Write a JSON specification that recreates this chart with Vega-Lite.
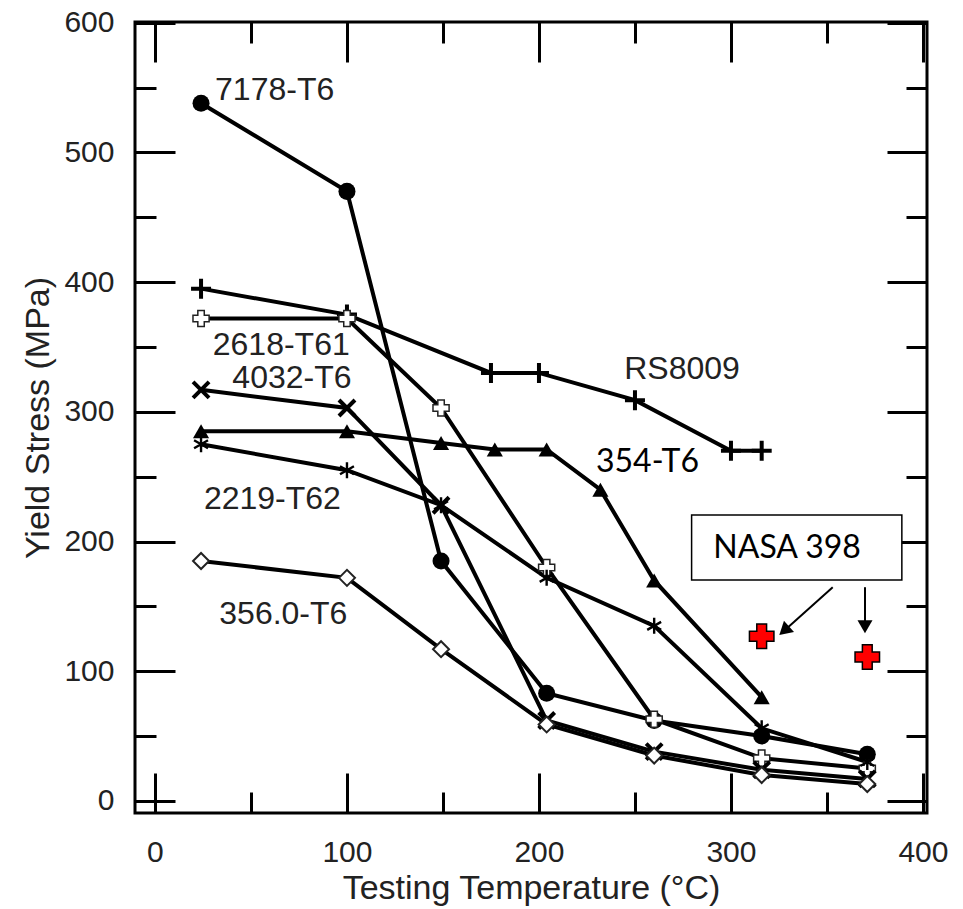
{
  "$schema": "https://vega.github.io/schema/vega-lite/v6.json",
  "width": 792,
  "height": 791,
  "autosize": {"type": "none"},
  "padding": {"left": 135, "top": 22, "right": 36, "bottom": 96},
  "background": "white",
  "config": {
    "view": {"stroke": "black", "strokeWidth": 3},
    "axis": {
      "domain": false,
      "grid": false,
      "tickColor": "black",
      "tickWidth": 3,
      "tickCap": "butt",
      "labelFont": "Liberation Sans",
      "labelFontSize": 30,
      "labelColor": "#222",
      "titleFont": "Liberation Sans",
      "titleFontSize": 34,
      "titleFontWeight": "normal",
      "titleColor": "#222",
      "labelFlush": false,
      "labelOverlap": false
    }
  },
  "datasets": {
    "series": [
      {"s": "7178-T6", "t": 24, "y": 538}, {"s": "7178-T6", "t": 100, "y": 470}, {"s": "7178-T6", "t": 149, "y": 185}, {"s": "7178-T6", "t": 204, "y": 83}, {"s": "7178-T6", "t": 260, "y": 62}, {"s": "7178-T6", "t": 316, "y": 50}, {"s": "7178-T6", "t": 371, "y": 36},
      {"s": "RS8009", "t": 24, "y": 395}, {"s": "RS8009", "t": 100, "y": 375}, {"s": "RS8009", "t": 175, "y": 330}, {"s": "RS8009", "t": 200, "y": 330}, {"s": "RS8009", "t": 250, "y": 309}, {"s": "RS8009", "t": 300, "y": 270}, {"s": "RS8009", "t": 316, "y": 270},
      {"s": "2618-T61", "t": 24, "y": 372}, {"s": "2618-T61", "t": 100, "y": 372}, {"s": "2618-T61", "t": 149, "y": 303}, {"s": "2618-T61", "t": 204, "y": 180}, {"s": "2618-T61", "t": 260, "y": 63}, {"s": "2618-T61", "t": 316, "y": 33}, {"s": "2618-T61", "t": 371, "y": 25},
      {"s": "4032-T6", "t": 24, "y": 317}, {"s": "4032-T6", "t": 100, "y": 303}, {"s": "4032-T6", "t": 149, "y": 228}, {"s": "4032-T6", "t": 204, "y": 62}, {"s": "4032-T6", "t": 260, "y": 38}, {"s": "4032-T6", "t": 316, "y": 24}, {"s": "4032-T6", "t": 371, "y": 17},
      {"s": "354-T6", "t": 24, "y": 285}, {"s": "354-T6", "t": 100, "y": 285}, {"s": "354-T6", "t": 149, "y": 276}, {"s": "354-T6", "t": 177, "y": 271}, {"s": "354-T6", "t": 204, "y": 271}, {"s": "354-T6", "t": 232, "y": 240}, {"s": "354-T6", "t": 260, "y": 170}, {"s": "354-T6", "t": 316, "y": 80},
      {"s": "2219-T62", "t": 24, "y": 275}, {"s": "2219-T62", "t": 100, "y": 255}, {"s": "2219-T62", "t": 149, "y": 228}, {"s": "2219-T62", "t": 204, "y": 172}, {"s": "2219-T62", "t": 260, "y": 135}, {"s": "2219-T62", "t": 316, "y": 56}, {"s": "2219-T62", "t": 371, "y": 30},
      {"s": "356.0-T6", "t": 24, "y": 185}, {"s": "356.0-T6", "t": 100, "y": 172}, {"s": "356.0-T6", "t": 149, "y": 117}, {"s": "356.0-T6", "t": 204, "y": 59}, {"s": "356.0-T6", "t": 260, "y": 35}, {"s": "356.0-T6", "t": 316, "y": 20}, {"s": "356.0-T6", "t": 371, "y": 13}
    ],
    "nasa": [
      {"s": "NASA 398", "t": 316, "y": 127},
      {"s": "NASA 398", "t": 371, "y": 111}
    ],
    "labels": [
      {"label": "7178-T6", "x": 31.3, "y": 548},
      {"label": "2618-T61", "x": 30.1, "y": 351.6},
      {"label": "4032-T6", "x": 40.3, "y": 326},
      {"label": "2219-T62", "x": 25.5, "y": 233},
      {"label": "356.0-T6", "x": 33.5, "y": 144},
      {"label": "RS8009", "x": 244.4, "y": 333}
    ],
    "labels2": [
      {"label": "354-T6", "x": 229.7, "y": 261.4},
      {"label": "NASA 398", "x": 290.8, "y": 194.8}
    ],
    "box": [{"x": 279.5, "x2": 389, "y": 220.5, "y2": 170.4}],
    "arrows": [
      {"x": 353, "y": 164.8, "x2": 327.7, "y2": 131.3, "a": 228},
      {"x": 369.8, "y": 164.8, "x2": 369.8, "y2": 134.3, "a": 180}
    ]
  },
  "layer": [
    {
      "data": {"name": "series"},
      "mark": {"type": "line", "color": "black", "strokeWidth": 4},
      "encoding": {
        "x": {"field": "t", "type": "quantitative", "scale": {"domain": [-10.4, 402.1], "nice": false, "zero": false},
              "axis": {"orient": "bottom", "values": [0, 100, 200, 300, 400], "tickSize": -40, "labelPadding": 64, "title": "Testing Temperature (°C)", "titleBaseline": "middle", "titleY": 75}},
        "y": {"field": "y", "type": "quantitative", "scale": {"domain": [-9.3, 600.6], "nice": false, "zero": false},
              "axis": {"orient": "left", "values": [0, 100, 200, 300, 400, 500, 600], "tickSize": -40, "labelPadding": 61, "title": "Yield Stress (MPa)", "titlePadding": 8}},
        "detail": {"field": "s"}
      }
    },
    {
      "data": {"name": "series"},
      "transform": [{"filter": "datum.s === '7178-T6'"}],
      "mark": {"type": "point", "shape": "circle", "filled": true, "color": "black", "size": 290, "opacity": 1},
      "encoding": {
        "x": {"field": "t", "type": "quantitative", "scale": {"domain": [-10.4, 402.1], "nice": false, "zero": false},
              "axis": {"orient": "bottom", "values": [50, 150, 250, 350], "tickSize": -21, "labels": false, "title": null}},
        "y": {"field": "y", "type": "quantitative", "scale": {"domain": [-9.3, 600.6], "nice": false, "zero": false},
              "axis": {"orient": "left", "values": [50, 150, 250, 350, 450, 550], "tickSize": -21, "labels": false, "title": null}}
      }
    },
    {
      "data": {"name": "series"},
      "transform": [{"filter": "datum.s === 'RS8009'"}],
      "mark": {"type": "point", "shape": "M-1,0H1M0,-1V1", "filled": false, "stroke": "black", "strokeWidth": 4, "size": 400, "opacity": 1},
      "encoding": {
        "x": {"field": "t", "type": "quantitative", "scale": {"domain": [-10.4, 402.1], "nice": false, "zero": false},
              "axis": {"orient": "top", "values": [0, 100, 200, 300, 400], "tickSize": -40, "labels": false, "title": null}},
        "y": {"field": "y", "type": "quantitative", "scale": {"domain": [-9.3, 600.6], "nice": false, "zero": false},
              "axis": {"orient": "right", "values": [0, 100, 200, 300, 400, 500, 600], "tickSize": -40, "labels": false, "title": null}}
      }
    },
    {
      "data": {"name": "series"},
      "transform": [{"filter": "datum.s === '2618-T61'"}],
      "mark": {"type": "point", "shape": "cross", "filled": true, "fill": "white", "stroke": "#222", "strokeWidth": 1.5, "size": 260, "opacity": 1},
      "encoding": {
        "x": {"field": "t", "type": "quantitative", "scale": {"domain": [-10.4, 402.1], "nice": false, "zero": false},
              "axis": {"orient": "top", "values": [50, 150, 250, 350], "tickSize": -21, "labels": false, "title": null}},
        "y": {"field": "y", "type": "quantitative", "scale": {"domain": [-9.3, 600.6], "nice": false, "zero": false},
              "axis": {"orient": "right", "values": [50, 150, 250, 350, 450, 550], "tickSize": -21, "labels": false, "title": null}}
      }
    },
    {
      "data": {"name": "series"},
      "transform": [{"filter": "datum.s === '4032-T6'"}],
      "mark": {"type": "point", "shape": "M-1,-1L1,1M-1,1L1,-1", "filled": false, "stroke": "black", "strokeWidth": 4, "size": 256, "opacity": 1},
      "encoding": {
        "x": {"field": "t", "type": "quantitative", "scale": {"domain": [-10.4, 402.1], "nice": false, "zero": false}, "axis": null},
        "y": {"field": "y", "type": "quantitative", "scale": {"domain": [-9.3, 600.6], "nice": false, "zero": false}, "axis": null}
      }
    },
    {
      "data": {"name": "series"},
      "transform": [{"filter": "datum.s === '354-T6'"}],
      "mark": {"type": "point", "shape": "triangle-up", "filled": true, "color": "black", "size": 260, "opacity": 1},
      "encoding": {
        "x": {"field": "t", "type": "quantitative", "scale": {"domain": [-10.4, 402.1], "nice": false, "zero": false}, "axis": null},
        "y": {"field": "y", "type": "quantitative", "scale": {"domain": [-9.3, 600.6], "nice": false, "zero": false}, "axis": null}
      }
    },
    {
      "data": {"name": "series"},
      "transform": [{"filter": "datum.s === '2219-T62'"}],
      "mark": {"type": "point", "shape": "M0,-1V1M-0.87,-0.5L0.87,0.5M-0.87,0.5L0.87,-0.5", "filled": false, "stroke": "black", "strokeWidth": 2.4, "size": 256, "opacity": 1},
      "encoding": {
        "x": {"field": "t", "type": "quantitative", "scale": {"domain": [-10.4, 402.1], "nice": false, "zero": false}, "axis": null},
        "y": {"field": "y", "type": "quantitative", "scale": {"domain": [-9.3, 600.6], "nice": false, "zero": false}, "axis": null}
      }
    },
    {
      "data": {"name": "series"},
      "transform": [{"filter": "datum.s === '356.0-T6'"}],
      "mark": {"type": "point", "shape": "diamond", "filled": true, "fill": "white", "stroke": "#222", "strokeWidth": 2, "size": 256, "opacity": 1},
      "encoding": {
        "x": {"field": "t", "type": "quantitative", "scale": {"domain": [-10.4, 402.1], "nice": false, "zero": false}, "axis": null},
        "y": {"field": "y", "type": "quantitative", "scale": {"domain": [-9.3, 600.6], "nice": false, "zero": false}, "axis": null}
      }
    },
    {
      "data": {"name": "nasa"},
      "mark": {"type": "point", "shape": "cross", "filled": true, "fill": "#ff0000", "stroke": "black", "strokeWidth": 1.5, "size": 600, "opacity": 1},
      "encoding": {
        "x": {"field": "t", "type": "quantitative", "scale": {"domain": [-10.4, 402.1], "nice": false, "zero": false}, "axis": null},
        "y": {"field": "y", "type": "quantitative", "scale": {"domain": [-9.3, 600.6], "nice": false, "zero": false}, "axis": null}
      }
    },
    {
      "data": {"name": "labels"},
      "mark": {"type": "text", "align": "left", "baseline": "middle", "font": "Liberation Sans", "fontSize": 32, "color": "#222"},
      "encoding": {
        "x": {"field": "x", "type": "quantitative", "scale": {"domain": [-10.4, 402.1], "nice": false, "zero": false}, "axis": null},
        "y": {"field": "y", "type": "quantitative", "scale": {"domain": [-9.3, 600.6], "nice": false, "zero": false}, "axis": null},
        "text": {"field": "label"}
      }
    },
    {
      "data": {"name": "box"},
      "mark": {"type": "rect", "fill": "white", "stroke": "black", "strokeWidth": 1.5},
      "encoding": {
        "x": {"field": "x", "type": "quantitative", "scale": {"domain": [-10.4, 402.1], "nice": false, "zero": false}, "axis": null},
        "x2": {"field": "x2"},
        "y": {"field": "y", "type": "quantitative", "scale": {"domain": [-9.3, 600.6], "nice": false, "zero": false}, "axis": null},
        "y2": {"field": "y2"}
      }
    },
    {
      "data": {"name": "labels2"},
      "mark": {"type": "text", "align": "left", "baseline": "middle", "font": "Lato", "fontSize": 32, "color": "black"},
      "encoding": {
        "x": {"field": "x", "type": "quantitative", "scale": {"domain": [-10.4, 402.1], "nice": false, "zero": false}, "axis": null},
        "y": {"field": "y", "type": "quantitative", "scale": {"domain": [-9.3, 600.6], "nice": false, "zero": false}, "axis": null},
        "text": {"field": "label"}
      }
    },
    {
      "data": {"name": "arrows"},
      "mark": {"type": "rule", "color": "black", "strokeWidth": 2},
      "encoding": {
        "x": {"field": "x", "type": "quantitative", "scale": {"domain": [-10.4, 402.1], "nice": false, "zero": false}, "axis": null},
        "x2": {"field": "x2"},
        "y": {"field": "y", "type": "quantitative", "scale": {"domain": [-9.3, 600.6], "nice": false, "zero": false}, "axis": null},
        "y2": {"field": "y2"}
      }
    },
    {
      "data": {"name": "arrows"},
      "mark": {"type": "point", "shape": "triangle-up", "filled": true, "color": "black", "size": 225, "opacity": 1},
      "encoding": {
        "x": {"field": "x2", "type": "quantitative", "scale": {"domain": [-10.4, 402.1], "nice": false, "zero": false}, "axis": null},
        "y": {"field": "y2", "type": "quantitative", "scale": {"domain": [-9.3, 600.6], "nice": false, "zero": false}, "axis": null},
        "angle": {"field": "a", "type": "quantitative", "scale": null}
      }
    }
  ],
  "resolve": {"axis": {"x": "independent", "y": "independent"}}
}
